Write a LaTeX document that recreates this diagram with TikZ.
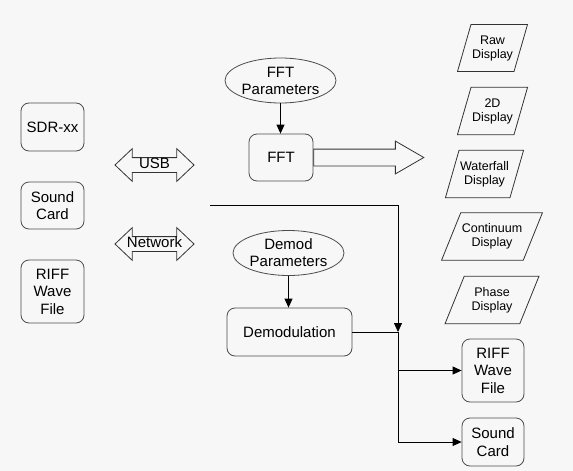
\documentclass[tikz,border=0pt]{standalone}
\usepackage{fontspec}
\setmainfont{Liberation Sans}
\usetikzlibrary{shapes.geometric,shapes.arrows,arrows.meta}

\tikzset{
  blk/.style={draw=black!70, rounded corners=8pt, align=center, inner sep=0pt,
    font=\fontsize{15}{17.5}\selectfont},
  parm/.style={ellipse, draw=black!70, align=center, inner sep=0pt,
    minimum width=111pt, minimum height=45pt, font=\fontsize{15}{17}\selectfont},
  disp/.style={trapezium, trapezium left angle=74, trapezium right angle=106,
    trapezium stretches body=true, draw=black!80, align=center, inner xsep=1pt,
    inner ysep=11pt, font=\fontsize{12.5}{14}\selectfont},
  link/.style={double arrow, draw=black!80, double arrow head extend=9pt,
    double arrow tip angle=87, inner xsep=-6pt, inner ysep=2.5pt,
    text height=8pt, text depth=1pt, minimum height=79pt,
    font=\fontsize{15}{17}\selectfont},
  bigarrow/.style={single arrow, draw=black!80, single arrow head extend=8pt,
    single arrow tip angle=60, inner xsep=0pt, inner ysep=8pt, minimum height=110pt}
}

\begin{document}
\begin{tikzpicture}[x=1pt, y=-1pt, line width=0.8pt, >={Triangle[length=9pt,width=8pt]}]
  \fill[black!3] (0,0) rectangle (573,471);
  \useasboundingbox (0,0) rectangle (573,471);

  % sources
  \node (sdr)    [blk, minimum width=63pt, minimum height=48pt] at (52.5,127)   {SDR-xx};
  \node (sndin)  [blk, minimum width=63pt, minimum height=47pt] at (52.5,205.5) {Sound\\Card};
  \node (riffin) [blk, minimum width=63pt, minimum height=63pt] at (52.5,291.5) {RIFF\\Wave\\File};
  \node (usb)    [link] at (154.5,165) {USB};
  \node (net)    [link] at (154.5,244) {Network};

  % fft path
  \node (fftpar) [parm] at (280.5,80.5) {FFT\\Parameters};
  \node (fft)    [blk, minimum width=64pt, minimum height=47pt] at (281,157.5) {FFT};
  \node (fftout) [bigarrow, anchor=tail] at (fft.east) {};

  % displays
  \node (raw)   [disp] at (492.5,48)  {Raw\\Display};
  \node (twod)  [disp] at (492.5,111) {2D\\Display};
  \node (wfall) [disp] at (484.5,174) {Waterfall\\Display};
  \node (cont)  [disp, trapezium left angle=68, trapezium right angle=112] at (492,236.5) {Continuum\\Display};
  \node (phase) [disp, trapezium left angle=68, trapezium right angle=112, minimum width=94pt] at (492,300) {Phase\\Display};

  % demodulation path
  \node (dempar) [parm] at (288.5,253) {Demod\\Parameters};
  \node (demod)  [blk, minimum width=125pt, minimum height=48pt] at (289.5,332) {Demodulation};

  % outputs
  \node (riffout) [blk, minimum width=62pt, minimum height=63pt] at (493,370.5) {RIFF\\Wave\\File};
  \node (sndout)  [blk, minimum width=62pt, minimum height=48pt] at (493,442)   {Sound\\Card};

  \coordinate (src) at (210,205);
  \coordinate (bus) at (398,332);

  \draw[->] (fftpar) -- (fftpar.south |- fft.north);
  \draw[->] (dempar) -- (dempar.south |- demod.north);
  \draw[->] (src) -| (bus);
  \draw (demod.east) -- (bus);
  \draw[->] (bus) |- (riffout);
  \draw[->] (bus) |- (sndout);
\end{tikzpicture}
\end{document}
